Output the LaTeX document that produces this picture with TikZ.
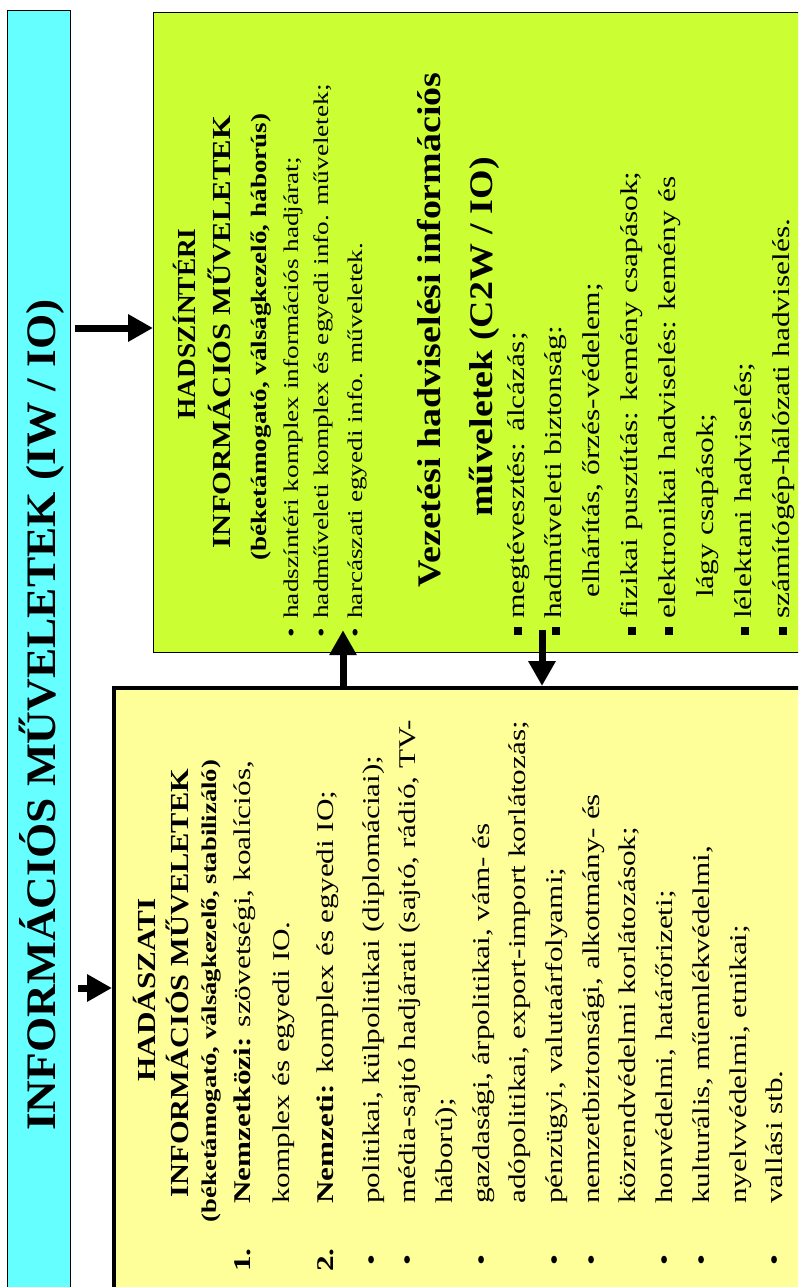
\documentclass[tikz,border=0pt]{standalone}
\usepackage{fontspec}
\setmainfont{Liberation Serif}
\usetikzlibrary{arrows.meta}
\definecolor{iocyan}{RGB}{102,255,255}
\definecolor{iogreen}{RGB}{204,255,51}
\definecolor{ioyellow}{RGB}{255,255,153}
\newcommand{\iofs}[1]{\fontsize{#1}{#1}\selectfont}
\begin{document}
\begin{tikzpicture}[x=1pt,y=-1pt,
  box/.style={draw=black, inner sep=0pt, anchor=north west},
  arr/.style={line width=7pt, -{Triangle[length=25pt,width=26pt]}},
  txt/.style={rotate=90, inner sep=0pt, text=black},
  hd/.style 2 args={txt, anchor=base, xscale=#2, font=\bfseries\iofs{#1}},
  gl/.style={txt, anchor=base west, xscale=1.3, font=\iofs{21}},
  cl/.style={txt, anchor=base west, xscale=1.3, font=\iofs{24.2}},
  yl/.style={txt, anchor=base west, xscale=1.3, font=\iofs{24}},
  sq/.style={fill=black, inner sep=0pt, minimum size=8pt}]
\useasboundingbox (0,0) rectangle (798,1287);
\clip (0,0) rectangle (798,1287);

% boxes (they run past the page edge)
\node[box, fill=iocyan, line width=1.2pt, minimum width=63pt, minimum height=1320pt] (cyan) at (7,10) {};
\node[box, fill=iogreen, line width=1.2pt, minimum width=700pt, minimum height=640pt] (green) at (153,12) {};
\node[box, fill=ioyellow, line width=3.5pt, minimum width=700pt, minimum height=640pt] (yellow) at (112,686) {};

% connectors
\coordinate (ra) at (0,328);
\coordinate (rb) at (0,988);
\coordinate (cu) at (343,0);
\coordinate (cd) at (542,0);
\draw[arr, shorten <=4pt] (cyan.east |- ra) -- (green.west |- ra);
\draw[arr, shorten <=7pt] (cyan.east |- rb) -- (yellow.west |- rb);
\draw[arr, shorten >=-23pt] (cu |- yellow.north) -- (cu |- green.south);
\draw[arr, shorten <=-23pt] (cd |- green.south) -- (cd |- yellow.north);

% title
\node[hd={42}{1.08}] (title) at (55,715) {INFORMÁCIÓS MŰVELETEK (IW / IO)};

% theatre level
\node[hd={26}{1.05}] (g1) at (195,324) {HADSZÍNTÉRI};
\node[hd={26}{1.18}] (g2) at (230,332) {INFORMÁCIÓS MŰVELETEK};
\node[hd={22}{1.23}] (g3) at (266,337) {(béketámogató, válságkezelő, háborús)};
\node[gl] (gb1) at (298,638) {•};
\node[gl] (gt1) at (298,619) {hadszíntéri komplex információs hadjárat;};
\node[gl] (gb2) at (328,638) {•};
\node[gl] (gt2) at (328,619) {hadműveleti komplex és egyedi info. műveletek;};
\node[gl] (gb3) at (362,638) {•};
\node[gl] (gt3) at (362,619) {harcászati egyedi info. műveletek.};

% C2W
\node[hd={33}{1.15}] (v1) at (440,330) {Vezetési hadviselési információs};
\node[hd={33}{1.15}] (v2) at (492,337) {műveletek (C2W / IO)};
\node[sq] (s1) at (518,631) {};
\node[cl] (c1) at (524,619) {megtévesztés: álcázás;};
\node[sq] (s2) at (556,631) {};
\node[cl] (c2) at (561.9,619) {hadműveleti biztonság:};
\node[cl] (c3) at (599.7,598) {elhárítás, őrzés-védelem;};
\node[sq] (s4) at (632,631) {};
\node[cl] (c4) at (637.6,619) {fizikai pusztítás: kemény csapások;};
\node[sq] (s5) at (669,631) {};
\node[cl] (c5) at (675.4,619) {elektronikai hadviselés: kemény és};
\node[cl] (c6) at (713.3,598) {lágy csapások;};
\node[sq] (s7) at (745,631) {};
\node[cl] (c7) at (751.2,619) {lélektani hadviselés;};
\node[sq] (s8) at (783,631) {};
\node[cl] (c8) at (789,619) {számítógép-hálózati hadviselés.};

% strategic level
\node[hd={26}{1.2}] (y1) at (155,990) {HADÁSZATI};
\node[hd={26}{1.17}] (y2) at (188,983) {INFORMÁCIÓS MŰVELETEK};
\node[hd={21}{1.27}] (y3) at (216,991) {(béketámogató, válságkezelő, stabilizáló)};
\node[yl] (n1) at (250,1272) {\textbf{1.}};
\node[yl] (t1) at (250,1204) {\textbf{Nemzetközi:} szövetségi, koalíciós,};
\node[yl] (t1b) at (289,1204) {komplex és egyedi IO.};
\node[yl] (n2) at (333,1272) {\textbf{2.}};
\node[yl] (t2) at (333,1204) {\textbf{Nemzeti:} komplex és egyedi IO;};
\node[yl] (b1) at (379,1266) {•};
\node[yl] (t3) at (379,1204) {politikai, külpolitikai (diplomáciai);};
\node[yl] (b2) at (415.7,1266) {•};
\node[yl] (t4) at (415.7,1204) {média-sajtó hadjárati (sajtó, rádió, TV-};
\node[yl] (t4b) at (452.4,1204) {háború);};
\node[yl] (b3) at (489.1,1266) {•};
\node[yl] (t5) at (489.1,1204) {gazdasági, árpolitikai, vám- és};
\node[yl] (t5b) at (525.8,1204) {adópolitikai, export-import korlátozás;};
\node[yl] (b4) at (562.5,1266) {•};
\node[yl] (t6) at (562.5,1204) {pénzügyi, valutaárfolyami;};
\node[yl] (b5) at (599.2,1266) {•};
\node[yl] (t7) at (599.2,1204) {nemzetbiztonsági, alkotmány- és};
\node[yl] (t7b) at (635.9,1204) {közrendvédelmi korlátozások;};
\node[yl] (b6) at (672.6,1266) {•};
\node[yl] (t8) at (672.6,1204) {honvédelmi, határőrizeti;};
\node[yl] (b7) at (709.3,1266) {•};
\node[yl] (t9) at (709.3,1204) {kulturális, műemlékvédelmi,};
\node[yl] (t9b) at (746,1204) {nyelvvédelmi, etnikai;};
\node[yl] (b8) at (782.7,1266) {•};
\node[yl] (t10) at (782.7,1204) {vallási stb.};
\end{tikzpicture}
\end{document}
